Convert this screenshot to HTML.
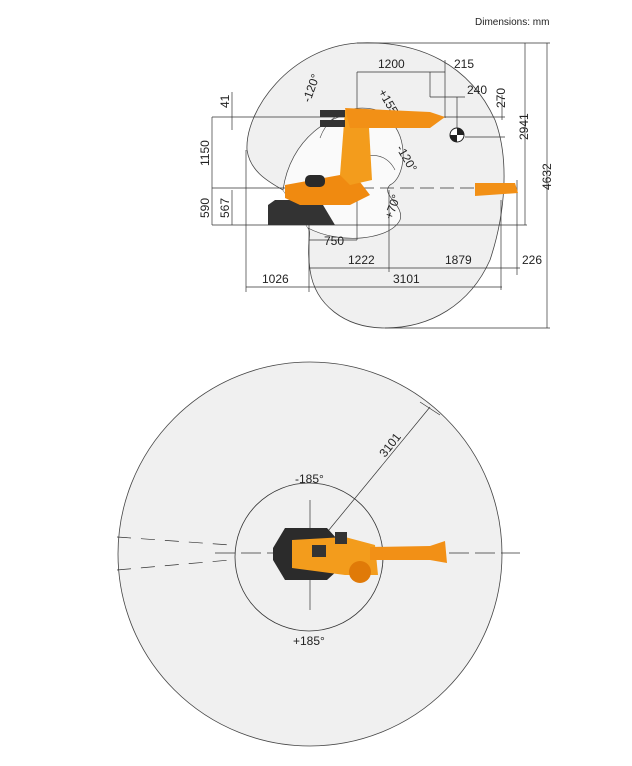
<!DOCTYPE html>
<html><head><meta charset="utf-8"><style>
html,body{margin:0;padding:0;background:#fff}
svg{display:block}
text{font-family:"Liberation Sans",sans-serif;fill:#222}
</style></head><body>
<svg width="632" height="766" viewBox="0 0 632 766" xmlns="http://www.w3.org/2000/svg">
<text x="475" y="25" font-size="10">Dimensions: mm</text>

<!-- side envelope -->
<path d="M357,43 C420,40 470,65 495,120 C510,160 505,215 490,260 C470,305 430,328 385,328 C345,328 315,305 310,270 C306,245 312,232 308,228 C300,215 290,200 283,190 C265,180 250,170 247,150 C245,110 290,48 357,43 Z" fill="#f0f0f0" stroke="#444" stroke-width="0.8"/>
<path d="M283,190 C290,140 330,110 370,112 C410,116 410,175 390,185 C380,195 405,205 400,220 C390,240 340,245 308,228" fill="#fafafa" stroke="#444" stroke-width="0.7"/>
<path d="M320,138 C330,110 360,100 390,115" fill="none" stroke="#444" stroke-width="0.6"/>
<path d="M340,195 C335,160 380,140 395,170" fill="none" stroke="#444" stroke-width="0.6"/>

<g stroke="#333" stroke-width="0.7" fill="none">
<line x1="357" y1="43" x2="550" y2="43"/>
<line x1="547" y1="43" x2="547" y2="328"/>
<line x1="385" y1="328" x2="550" y2="328"/>
<line x1="525" y1="43" x2="525" y2="225"/>
<line x1="502" y1="95" x2="502" y2="120"/>
<line x1="357" y1="72" x2="357" y2="240"/>
<line x1="357" y1="72" x2="445" y2="72"/>
<line x1="430" y1="72" x2="430" y2="97"/>
<line x1="445" y1="60" x2="445" y2="118"/>
<line x1="430" y1="97" x2="465" y2="97"/>
<line x1="457" y1="97" x2="457" y2="135"/>
<line x1="212" y1="117" x2="355" y2="117"/>
<line x1="212" y1="117" x2="212" y2="225"/>
<line x1="232" y1="92" x2="232" y2="130"/>
<line x1="232" y1="190" x2="232" y2="225"/>
<line x1="212" y1="188" x2="290" y2="188"/>
<line x1="212" y1="225" x2="527" y2="225"/>
<line x1="357" y1="117" x2="505" y2="117"/>
<line x1="465" y1="137" x2="505" y2="137"/>
<line x1="309" y1="225" x2="309" y2="292"/>
<line x1="309" y1="240" x2="357" y2="240"/>
<line x1="309" y1="268" x2="520" y2="268"/>
<line x1="389" y1="190" x2="389" y2="272"/>
<line x1="501" y1="200" x2="501" y2="290"/>
<line x1="517" y1="180" x2="517" y2="275"/>
<line x1="246" y1="150" x2="246" y2="292"/>
<line x1="246" y1="287" x2="502" y2="287"/>
<line x1="360" y1="188" x2="520" y2="188" stroke-dasharray="14,6"/>
</g>
<g font-size="12">
<text x="378" y="68">1200</text>
<text x="454" y="68">215</text>
<text x="467" y="94">240</text>
<text x="348" y="264">1222</text>
<text x="445" y="264">1879</text>
<text x="522" y="264">226</text>
<text x="262" y="283">1026</text>
<text x="393" y="283">3101</text>
<text x="324" y="245">750</text>
<text transform="translate(505,108) rotate(-90)">270</text>
<text transform="translate(528,140) rotate(-90)">2941</text>
<text transform="translate(551,190) rotate(-90)">4632</text>
<text transform="translate(229,108) rotate(-90)">41</text>
<text transform="translate(209,166) rotate(-90)">1150</text>
<text transform="translate(209,218) rotate(-90)">590</text>
<text transform="translate(229,218) rotate(-90)">567</text>
<text transform="translate(310,103) rotate(-70)">-120°</text>
<text transform="translate(378,92) rotate(60)">+155°</text>
<text transform="translate(396,148) rotate(60)">-120°</text>
<text transform="translate(392,220) rotate(-70)">+70°</text>
</g>
<!-- target symbol -->
<circle cx="457" cy="135" r="7" fill="#fff" stroke="#222"/>
<path d="M457,128 A7,7 0 0,1 464,135 L457,135Z M457,142 A7,7 0 0,1 450,135 L457,135Z" fill="#222"/>

<!-- side robot -->
<path d="M268,205 L275,200 L320,200 L335,225 L268,225Z" fill="#333"/>
<path d="M285,185 L340,175 L360,182 L370,195 L350,205 L300,205 L285,198Z" fill="#f08a10"/>
<rect x="305" y="175" width="20" height="12" rx="5" fill="#2a2a2a"/>
<path d="M345,110 L368,110 L372,180 L350,185 L340,175Z" fill="#f39c1c"/>
<path d="M345,108 L430,112 L445,117 L430,128 L350,128Z" fill="#f29016"/>
<rect x="320" y="110" width="25" height="7" fill="#333"/>
<rect x="320" y="120" width="25" height="7" fill="#333"/>
<path d="M475,183 L515,183 L518,193 L475,196Z" fill="#f29016"/>

<!-- top view -->
<circle cx="310" cy="554" r="192" fill="#f0f0f0" stroke="#444" stroke-width="0.8"/>
<circle cx="309" cy="557" r="74" fill="none" stroke="#333" stroke-width="0.8"/>
<g stroke="#333" stroke-width="0.7" fill="none">
<line x1="310" y1="500" x2="310" y2="610"/>
<line x1="310" y1="553" x2="430" y2="407"/>
<line x1="420" y1="402" x2="440" y2="415"/>
<line x1="215" y1="553" x2="520" y2="553" stroke-dasharray="20,6"/>
<path d="M117,537 L230,545 M117,570 L230,560" stroke-dasharray="14,10"/>
</g>
<g font-size="12">
<text x="295" y="483">-185°</text>
<text x="293" y="645">+185°</text>
<text transform="translate(385,458) rotate(-52)">3101</text>
</g>
<path d="M285,528 L327,528 L338,540 L338,570 L327,580 L285,580 L273,560 L273,548Z" fill="#2b2b2b"/>
<path d="M292,540 L345,537 L375,545 L378,575 L345,575 L292,568Z" fill="#f39c1c"/>
<circle cx="360" cy="572" r="11" fill="#e07a08"/>
<path d="M370,547 L430,546 L445,541 L447,563 L430,560 L370,560Z" fill="#f29016"/>
<rect x="312" y="545" width="14" height="12" fill="#333"/>
<rect x="335" y="532" width="12" height="12" fill="#333"/>
</svg>
</body></html>
